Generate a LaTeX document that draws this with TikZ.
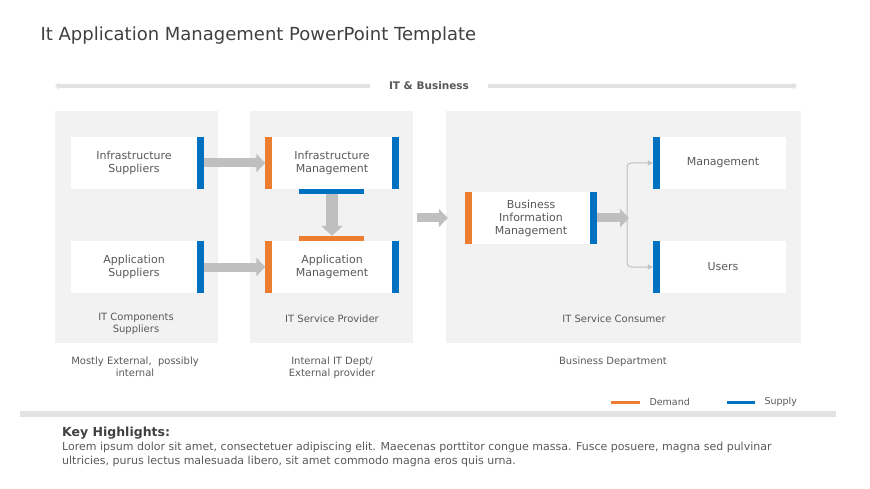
\documentclass[tikz,border=0pt]{standalone}
\usepackage{fontspec}
\setmainfont{DejaVu Sans}
\usetikzlibrary{arrows.meta,positioning}
\definecolor{demand}{HTML}{ED7D31}
\definecolor{supply}{HTML}{0070C0}
\definecolor{panelgray}{HTML}{F2F2F2}
\definecolor{arrowgray}{HTML}{BFBFBF}
\definecolor{linegray}{HTML}{E2E2E2}
\definecolor{textgray}{HTML}{595959}
\definecolor{titlegray}{HTML}{404040}

\begin{document}
\begin{tikzpicture}[x=1pt, y=-1pt,
    panel/.style={fill=panelgray, minimum width=163pt, minimum height=232pt, inner sep=0pt},
    box/.style={fill=white, minimum height=52pt, inner sep=0pt, align=center, text=textgray, font=\fontsize{11}{13}\selectfont},
    caption/.style={text=textgray, align=center, font=\fontsize{10}{11.5}\selectfont},
    fat/.style={draw=arrowgray, line width=9pt, -{Triangle[length=9pt, width=18pt]}},
    thinarrow/.style={draw=arrowgray, line width=1pt, -{Triangle[length=5pt, width=5pt]}, rounded corners=4pt},
    topline/.style={draw=linegray, line width=3.5pt, -{Triangle[length=4pt, width=7pt]}}]
    \useasboundingbox (0,0) rectangle (870,489);
    % Title and top band
    \node[anchor=west, text=titlegray, font=\fontsize{18}{21}\selectfont] (Title) at (37,36) {It Application Management PowerPoint Template};
    \node[text=textgray, inner xsep=19pt, font=\bfseries\fontsize{10.5}{12}\selectfont] (ITBiz) at (429,86) {IT \& Business};
    \coordinate (LeftEnd) at (55,86);
    \coordinate (RightEnd) at (797,86);
    \draw[topline] (ITBiz) -- (LeftEnd);
    \draw[topline] (ITBiz) -- (RightEnd);
    % Panels
    \node[panel] (CompPanel) at (136.5,227) {};
    \node[panel] (ProvPanel) at (331.5,227) {};
    \node[panel, minimum width=355pt] (ConsPanel) at (623.5,227) {};
    % Boxes
    \node[box, minimum width=126pt] (InfSup) at (134,163) {Infrastructure\\Suppliers};
    \node[box, minimum width=126pt] (AppSup) at (134,267) {Application\\Suppliers};
    \node[box, minimum width=120pt] (InfMan) at (332,163) {Infrastructure\\Management};
    \node[box, minimum width=120pt] (AppMan) at (332,267) {Application\\Management};
    \node[box, minimum width=118pt] (BizMan) at (531,218) {Business\\Information\\Management};
    \node[box, minimum width=126pt] (Mgmt) at (723,163) {Management};
    \node[box, minimum width=126pt] (Users) at (723,267) {Users};
    % Demand and supply bars
    \foreach \b in {InfSup, AppSup, InfMan, AppMan, BizMan}
        \fill[supply] (\b.north east) rectangle ([xshift=6.5pt]\b.south east);
    \foreach \b in {InfMan, AppMan, BizMan}
        \fill[demand] ([xshift=-6.5pt]\b.north west) rectangle (\b.south west);
    \foreach \b in {Mgmt, Users}
        \fill[supply] ([xshift=-7pt]\b.north west) rectangle (\b.south west);
    \fill[supply] ([xshift=-33pt]InfMan.south) rectangle ([xshift=32pt, yshift=-5pt]InfMan.south);
    \fill[demand] ([xshift=-33pt, yshift=5pt]AppMan.north) rectangle ([xshift=32pt]AppMan.north);
    % Arrows
    \draw[fat, shorten <=6.5pt, shorten >=6.5pt] (InfSup) -- (InfMan);
    \draw[fat, shorten <=6.5pt, shorten >=6.5pt] (AppSup) -- (AppMan);
    \draw[fat, line width=12pt, -{Triangle[length=10pt, width=21pt]}, shorten <=5pt, shorten >=5pt] (InfMan) -- (AppMan);
    \draw[fat, shorten <=4pt, shorten >=-2pt] (ProvPanel.east |- BizMan) -- (ConsPanel.west |- BizMan);
    \coordinate (Fork) at (627,218);
    \draw[fat, shorten <=6.5pt, shorten >=-2pt] (BizMan) -- (Fork);
    \draw[thinarrow, shorten >=7pt] (Fork) |- (Mgmt);
    \draw[thinarrow, shorten >=7pt] (Fork) |- (Users);
    % Captions
    \node[caption] (CompCap) at (136,324) {IT Components\\Suppliers};
    \node[caption] (ProvCap) at (332,318.5) {IT Service Provider};
    \node[caption] (ConsCap) at (614,318.5) {IT Service Consumer};
    \node[caption] (CompNote) at (135,367) {Mostly External, \ possibly\\internal};
    \node[caption] (ProvNote) at (332,367.5) {Internal IT Dept/\\External provider};
    \node[caption] (ConsNote) at (613,361.5) {Business Department};
    % Legend
    \draw[demand, line width=3pt] (611,402) -- ++(29,0);
    \node[anchor=west, text=textgray, font=\fontsize{9.5}{11}\selectfont] (DemandKey) at (646,402) {Demand};
    \draw[supply, line width=3pt] (727,402) -- ++(28,0);
    \node[anchor=west, text=textgray, font=\fontsize{9.5}{11}\selectfont] (SupplyKey) at (761,402) {Supply};
    \fill[linegray] (20,411) rectangle (836,417);
    % Key highlights
    \node[anchor=west, inner sep=0pt, text=titlegray, font=\bfseries\fontsize{12.5}{14}\selectfont] (KeyHead) at (62,433.5) {Key Highlights:};
    \node[anchor=north west, inner sep=0pt, align=left, text=textgray, font=\fontsize{11}{14}\selectfont] (KeyText) at (62,442) {Lorem ipsum dolor sit amet, consectetuer adipiscing elit. Maecenas porttitor congue massa. Fusce posuere, magna sed pulvinar\\ultricies, purus lectus malesuada libero, sit amet commodo magna eros quis urna.};
\end{tikzpicture}
\end{document}
